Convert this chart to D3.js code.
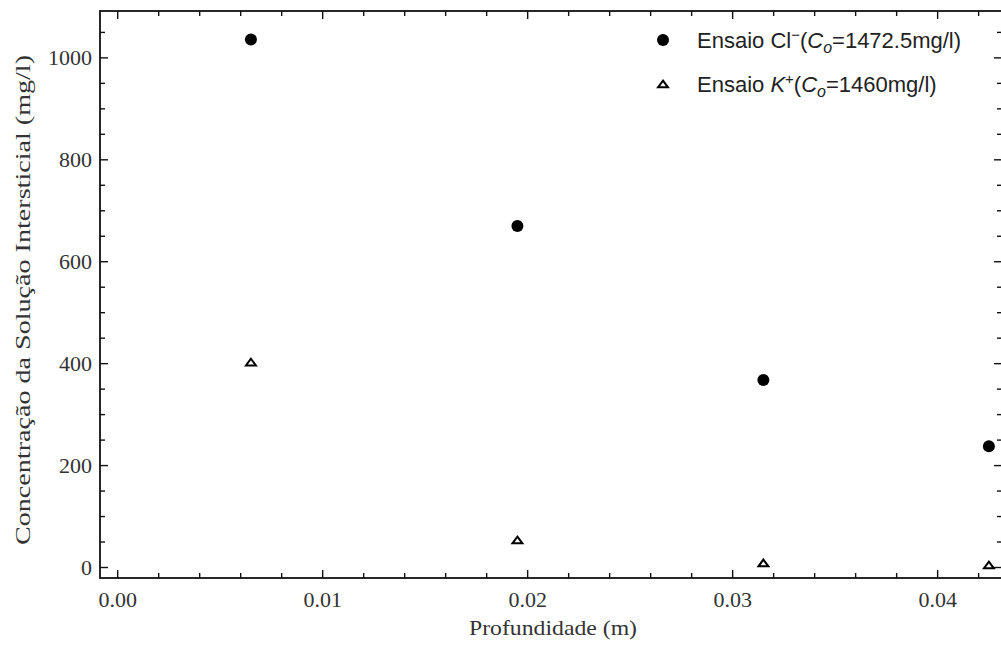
<!DOCTYPE html>
<html>
<head>
<meta charset="utf-8">
<script src="https://cdn.jsdelivr.net/npm/d3@7"></script>
<style>
  body { margin: 0; background: #fff; }
  .tick_label { font-family: "Liberation Serif", "DejaVu Serif", serif; font-size: 22px; fill: #333; }
  .axis_title { font-family: "Liberation Serif", "DejaVu Serif", serif; font-size: 22px; fill: #333; }
  .legend_text { font-family: "Liberation Sans", Arial, sans-serif; font-size: 22px; fill: #222; }
</style>
</head>
<body>
<div id="chart"></div>
<script>
// depth (m)
var cl_depth = [0.0065, 0.0195, 0.0315, 0.0425];
var cl_conc = [1036, 670, 368, 238];
var k_depth = [0.0065, 0.0195, 0.0315, 0.0425];
var k_conc = [403, 54, 9, 5];

var x_ticks = [0.00, 0.01, 0.02, 0.03, 0.04];
var y_ticks = [0, 200, 400, 600, 800, 1000];

var width = 1001;
var height = 648;

var svg = d3.select("#chart")
            .append("svg")
            .attr("width", width)
            .attr("height", height);

// note: "top" clashes with window.top, so plot_ prefix
var plot_left = 100, plot_right = 1002, plot_top = 11, plot_bottom = 578;

var x = d3.scaleLinear()
          .domain([-0.000863, 0.04314])
          .range([plot_left, plot_right]);
var y = d3.scaleLinear()
          .domain([-20.6, 1092])
          .range([plot_bottom, plot_top]);

// minor ticks
var x_minor = d3.range(0, 0.0431, 0.002);
var y_minor = d3.range(0, 1091, 50);

var frame = svg.append("g");

function isMajorX(v) { return Math.abs(v / 0.01 - Math.round(v / 0.01)) < 1e-6; }
function isMajorY(v) { return v % 200 === 0; }

// bottom & top ticks
x_minor.forEach(function(v) {
  var len = isMajorX(v) ? 8 : 5;
  frame.append("line").attr("x1", x(v)).attr("x2", x(v))
       .attr("y1", plot_bottom).attr("y2", plot_bottom - len)
       .attr("stroke", "#111").attr("stroke-width", 1.4);
  frame.append("line").attr("x1", x(v)).attr("x2", x(v))
       .attr("y1", plot_top).attr("y2", plot_top + len)
       .attr("stroke", "#111").attr("stroke-width", 1.4);
});
// left & right ticks
y_minor.forEach(function(v) {
  var len = isMajorY(v) ? 8 : 5;
  frame.append("line").attr("x1", plot_left).attr("x2", plot_left + len)
       .attr("y1", y(v)).attr("y2", y(v))
       .attr("stroke", "#111").attr("stroke-width", 1.4);
  frame.append("line").attr("x1", plot_right).attr("x2", plot_right - len)
       .attr("y1", y(v)).attr("y2", y(v))
       .attr("stroke", "#111").attr("stroke-width", 1.4);
});

frame.append("rect")
     .attr("x", plot_left).attr("y", plot_top)
     .attr("width", plot_right - plot_left).attr("height", plot_bottom - plot_top)
     .attr("fill", "none").attr("stroke", "#111").attr("stroke-width", 1.8);

// tick labels
svg.selectAll("text.xt").data(x_ticks).enter()
   .append("text").classed("tick_label", true)
   .attr("x", function(d) { return x(d); })
   .attr("y", 607)
   .attr("text-anchor", "middle")
   .text(function(d) { return d3.format(".2f")(d); });

svg.selectAll("text.yt").data(y_ticks).enter()
   .append("text").classed("tick_label", true)
   .attr("x", 92)
   .attr("y", function(d) { return y(d) + 7.5; })
   .attr("text-anchor", "end")
   .text(function(d) { return d; });

// axis titles
svg.append("text").classed("axis_title", true)
   .attr("x", 553).attr("y", 635)
   .attr("text-anchor", "middle")
   .attr("textLength", 168)
   .attr("lengthAdjust", "spacingAndGlyphs")
   .text("Profundidade (m)");

svg.append("text").classed("axis_title", true)
   .attr("transform", "translate(30,300) rotate(-90)")
   .attr("text-anchor", "middle")
   .attr("textLength", 490)
   .attr("lengthAdjust", "spacingAndGlyphs")
   .text("Concentração da Solução Intersticial (mg/l)");

// data
var cl_data = cl_depth.map(function(d, i) { return {x: d, y: cl_conc[i]}; });
var k_data = k_depth.map(function(d, i) { return {x: d, y: k_conc[i]}; });

// flat open triangle like the original marker
var flatTriangle = {
  draw: function(context, size) {
    var w = Math.sqrt(size) * 0.62, h = w * 0.68;
    context.moveTo(0, -h);
    context.lineTo(w, h);
    context.lineTo(-w, h);
    context.closePath();
  }
};
var tri = d3.symbol().type(flatTriangle).size(64);

svg.append("g").selectAll("circle").data(cl_data).enter()
   .append("circle")
   .attr("cx", function(d) { return x(d.x); })
   .attr("cy", function(d) { return y(d.y); })
   .attr("r", 6)
   .attr("fill", "#000");

svg.append("g").selectAll("path").data(k_data).enter()
   .append("path")
   .attr("d", tri)
   .attr("transform", function(d) { return "translate(" + x(d.x) + "," + y(d.y) + ")"; })
   .attr("fill", "#fff")
   .attr("stroke", "#000")
   .attr("stroke-width", 2);

// legend
var legend = svg.append("g");
legend.append("circle").attr("cx", 663).attr("cy", 40).attr("r", 6).attr("fill", "#000");
legend.append("path").attr("d", tri).attr("transform", "translate(663,84)")
      .attr("fill", "#fff").attr("stroke", "#000").attr("stroke-width", 2);

var t1 = legend.append("text").classed("legend_text", true).attr("x", 697).attr("y", 48);
t1.append("tspan").text("Ensaio Cl");
t1.append("tspan").attr("dy", -8).attr("font-size", 15).text("\u2212");
t1.append("tspan").attr("dy", 8).text("(");
t1.append("tspan").attr("font-style", "italic").text("C");
t1.append("tspan").attr("font-style", "italic").attr("font-size", 16).attr("dy", 5).text("o");
t1.append("tspan").attr("dy", -5).text("=1472.5mg/l)");

var t2 = legend.append("text").classed("legend_text", true).attr("x", 697).attr("y", 92);
t2.append("tspan").text("Ensaio ");
t2.append("tspan").attr("font-style", "italic").text("K");
t2.append("tspan").attr("dy", -8).attr("font-size", 15).text("+");
t2.append("tspan").attr("dy", 8).text("(");
t2.append("tspan").attr("font-style", "italic").text("C");
t2.append("tspan").attr("font-style", "italic").attr("font-size", 16).attr("dy", 5).text("o");
t2.append("tspan").attr("dy", -5).text("=1460mg/l)");
</script>
</body>
</html>
